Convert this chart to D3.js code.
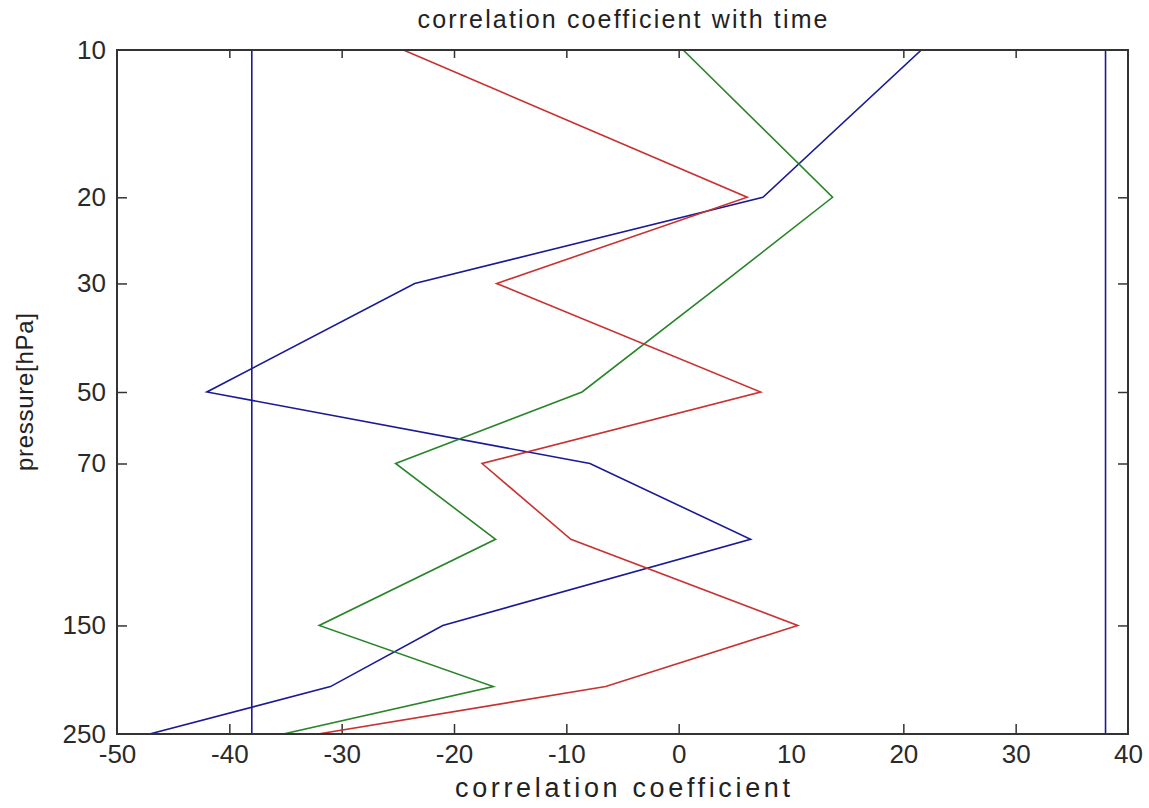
<!DOCTYPE html>
<html>
<head>
<meta charset="utf-8">
<script src="https://d3js.org/d3.v7.min.js"></script>
<style>
  body { margin: 0; background: #fff; }
  svg { display: block; font-family: "Liberation Sans", Arial, sans-serif; }
  .tick text { fill: #2a2a2a; font-size: 26px; }
  .tick line { stroke: #333; stroke-width: 1.5; }
  .domain { display: none; }
  .series { fill: none; stroke-width: 1.6; }
</style>
</head>
<body>
<div id="chart"></div>
<script>
// pressure levels (hPa) and correlation coefficients at each level
const pressure = [10, 20, 30, 50, 70, 100, 150, 200, 250];
const blueSeries = [21.6, 7.5, -23.5, -42.0, -7.9, 6.4, -21.0, -31.0, -47.1];
const redSeries = [-24.5, 6.1, -16.2, 7.3, -17.5, -9.6, 10.6, -6.5, -32.1];
const greenSeries = [0.4, 13.7, 3.9, -8.6, -25.2, -16.3, -32.0, -16.5, -35.2];
// significance limits drawn as vertical lines
const significance = [-38, 38];

const xTicks = [-50, -40, -30, -20, -10, 0, 10, 20, 30, 40];
const yTicks = [10, 20, 30, 50, 70, 150, 250];

const width = 1149, height = 808;
const margin = { top: 50, right: 21, bottom: 74, left: 117 };

const svg = d3.select('#chart')
  .append('svg')
  .attr('width', width)
  .attr('height', height);

const x = d3.scaleLinear()
  .domain([-50, 40])
  .range([margin.left, width - margin.right]);

const y = d3.scaleLog()
  .domain([10, 250])
  .range([margin.top, height - margin.bottom]);

svg.append('clipPath')
  .attr('id', 'plot-clip')
  .append('rect')
  .attr('x', margin.left)
  .attr('y', margin.top)
  .attr('width', width - margin.left - margin.right)
  .attr('height', height - margin.top - margin.bottom);

// axes, ticks pointing inward like matlab
svg.append('g')
  .attr('transform', `translate(0,${height - margin.bottom})`)
  .call(d3.axisBottom(x).tickValues(xTicks).tickSize(-10).tickSizeOuter(0).tickPadding(11).tickFormat(d => String(d)));

svg.append('g')
  .attr('transform', `translate(0,${margin.top})`)
  .call(d3.axisTop(x).tickValues(xTicks).tickSize(-8).tickSizeOuter(0).tickFormat(''));

svg.append('g')
  .attr('transform', `translate(${margin.left},0)`)
  .call(d3.axisLeft(y).tickValues(yTicks).tickSize(-10).tickSizeOuter(0).tickPadding(11).tickFormat(d => String(d)));

svg.append('g')
  .attr('transform', `translate(${width - margin.right},0)`)
  .call(d3.axisRight(y).tickValues(yTicks).tickSize(-10).tickSizeOuter(0).tickFormat(''));

// hide the ticks at the corners, matlab does not draw them
svg.selectAll('.tick').filter(d => d === -50 || d === 40 || d === 10 || d === 250).select('line').remove();

const plot = svg.append('g').attr('clip-path', 'url(#plot-clip)');

const line = d3.line()
  .x(d => x(d[0]))
  .y(d => y(d[1]));

const series = [
  { values: blueSeries, color: '#1a1a96' },
  { values: greenSeries, color: '#2a842a' },
  { values: redSeries, color: '#c83232' }
];

series.forEach(s => {
  plot.append('path')
    .attr('class', 'series')
    .attr('stroke', s.color)
    .attr('d', line(s.values.map((v, i) => [v, pressure[i]])));
});

significance.forEach(v => {
  plot.append('path')
    .attr('class', 'series')
    .attr('stroke', '#1a1a96')
    .attr('d', line(d3.extent(pressure).map(p => [v, p])));
});

// axes box
svg.append('rect')
  .attr('x', margin.left)
  .attr('y', margin.top)
  .attr('width', width - margin.left - margin.right)
  .attr('height', height - margin.top - margin.bottom)
  .attr('fill', 'none')
  .attr('stroke', '#333')
  .attr('stroke-width', 2);

// titles
const cx = (margin.left + width - margin.right) / 2;

svg.append('text')
  .attr('x', cx)
  .attr('y', 28)
  .attr('text-anchor', 'middle')
  .attr('font-size', 25)
  .attr('fill', '#222')
  .attr('textLength', 410)
  .attr('lengthAdjust', 'spacing')
  .text('correlation coefficient with time');

svg.append('text')
  .attr('x', cx)
  .attr('y', 797)
  .attr('text-anchor', 'middle')
  .attr('font-size', 27)
  .attr('fill', '#222')
  .attr('textLength', 335)
  .attr('lengthAdjust', 'spacing')
  .text('correlation coefficient');

svg.append('text')
  .attr('transform', `translate(33,${(margin.top + height - margin.bottom) / 2}) rotate(-90)`)
  .attr('text-anchor', 'middle')
  .attr('font-size', 24)
  .attr('fill', '#222')
  .attr('textLength', 158)
  .attr('lengthAdjust', 'spacing')
  .text('pressure[hPa]');
</script>
</body>
</html>
